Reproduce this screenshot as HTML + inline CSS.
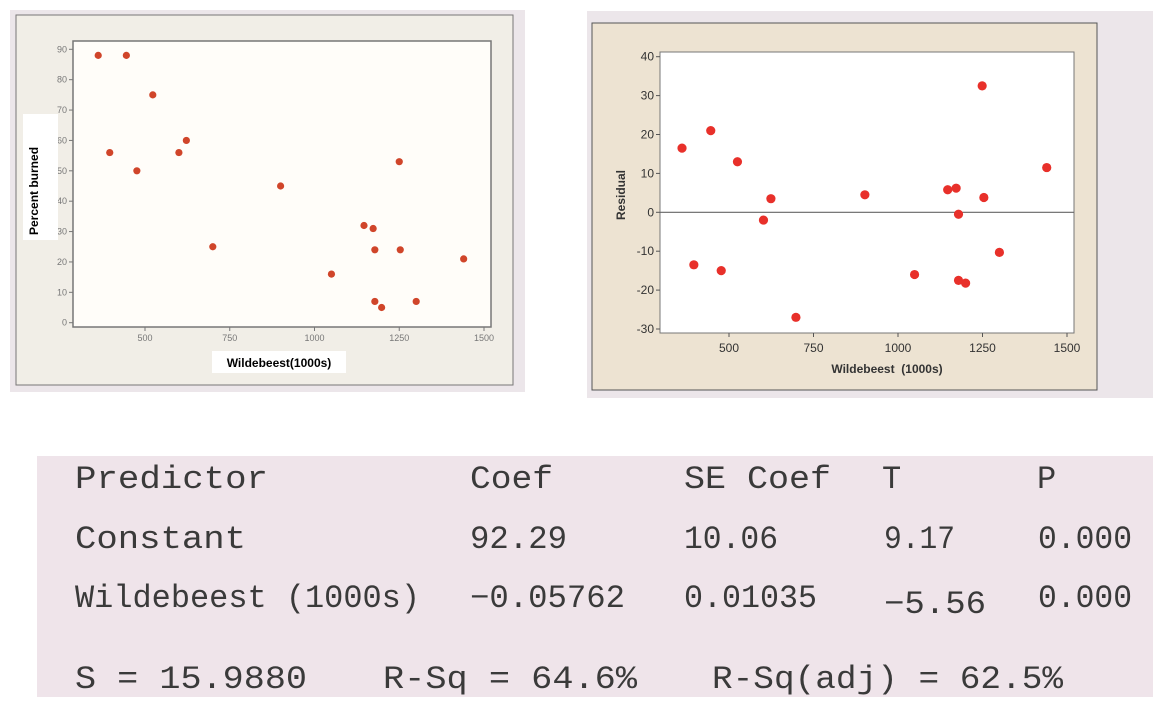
<!DOCTYPE html>
<html><head><meta charset="utf-8"><style>
body{margin:0;background:#fff;width:1160px;height:706px;overflow:hidden}
svg{display:block}
</style></head><body>
<svg width="1160" height="706" xmlns="http://www.w3.org/2000/svg">
<rect x="10" y="10" width="515" height="382" fill="#ece6ea"/>
<rect x="16" y="15" width="497" height="370" fill="#f1eee7" stroke="#777" stroke-width="1"/>
<rect x="73" y="41" width="418" height="286" fill="#fffdf9" stroke="#777" stroke-width="1.5"/>
<g id="lax" font-family="Liberation Sans, sans-serif" font-size="9" fill="#777"></g>
<rect x="23" y="114" width="35" height="126" fill="#fff"/>
<text transform="translate(38,235) rotate(-90)" font-family="Liberation Sans, sans-serif" font-weight="bold" font-size="12" fill="#000">Percent burned</text>
<rect x="212" y="351" width="134" height="22" fill="#fff"/>
<text x="279" y="367" text-anchor="middle" font-family="Liberation Sans, sans-serif" font-weight="bold" font-size="12" fill="#000">Wildebeest(1000s)</text>
<g id="lpts"></g>

<rect x="587" y="11" width="566" height="387" fill="#ece6ea"/>
<rect x="592" y="23" width="505" height="367" fill="#ede3d2" stroke="#555" stroke-width="1"/>
<rect x="660" y="52" width="414" height="281" fill="#fff" stroke="#777" stroke-width="1"/>
<g id="rax" font-family="Liberation Sans, sans-serif" font-size="12" fill="#333"></g>
<text transform="translate(625,195) rotate(-90)" text-anchor="middle" font-family="Liberation Sans, sans-serif" font-weight="bold" font-size="12" fill="#333">Residual</text>
<text x="887" y="373" text-anchor="middle" font-family="Liberation Sans, sans-serif" font-weight="bold" font-size="12" fill="#333" xml:space="preserve">Wildebeest  (1000s)</text>
<g id="rpts"></g>

<rect x="37" y="456" width="1116" height="241" fill="#efe4ea"/>
<g font-family="Liberation Mono, monospace" font-size="32" fill="#3a3a3a" xml:space="preserve" lengthAdjust="spacingAndGlyphs">
<text x="75" y="488" textLength="193" lengthAdjust="spacingAndGlyphs">Predictor</text>
<text x="470" y="488" textLength="83" lengthAdjust="spacingAndGlyphs">Coef</text>
<text x="684" y="488" textLength="147" lengthAdjust="spacingAndGlyphs">SE Coef</text>
<text x="882" y="488">T</text>
<text x="1037" y="488">P</text>
<text x="75" y="548" textLength="171" lengthAdjust="spacingAndGlyphs">Constant</text>
<text x="470" y="548" textLength="97" lengthAdjust="spacingAndGlyphs">92.29</text>
<text x="684" y="548" textLength="94" lengthAdjust="spacingAndGlyphs">10.06</text>
<text x="884" y="548" textLength="71" lengthAdjust="spacingAndGlyphs">9.17</text>
<text x="1038" y="548" textLength="94" lengthAdjust="spacingAndGlyphs">0.000</text>
<text x="75" y="607" textLength="345" lengthAdjust="spacingAndGlyphs">Wildebeest (1000s)</text>
<text x="470" y="607" textLength="155" lengthAdjust="spacingAndGlyphs">−0.05762</text>
<text x="684" y="607" textLength="133" lengthAdjust="spacingAndGlyphs">0.01035</text>
<text x="884" y="613" textLength="102" lengthAdjust="spacingAndGlyphs">−5.56</text>
<text x="1038" y="607" textLength="94" lengthAdjust="spacingAndGlyphs">0.000</text>
<text x="75" y="688" textLength="232" lengthAdjust="spacingAndGlyphs">S = 15.9880</text>
<text x="383" y="688" textLength="254" lengthAdjust="spacingAndGlyphs">R-Sq = 64.6%</text>
<text x="712" y="688" textLength="351" lengthAdjust="spacingAndGlyphs">R-Sq(adj) = 62.5%</text>
</g>
</svg>
<script>
const NS='http://www.w3.org/2000/svg';
const wild=[362,445,523,396,476,600,622,700,900,1050,1146,1173,1178,1178,1198,1250,1253,1300,1440];
const burned=[88,88,75,56,50,56,60,25,45,16,32,31,24,7,5,53,24,7,21];
const residX=[361,446,525,624,602,396,477,698,902,1049,1147,1172,1179,1179,1200,1249,1254,1300,1440];
const residY=[16.5,21,13,3.5,-2,-13.5,-15,-27,4.5,-16,5.8,6.2,-0.5,-17.5,-18.2,32.5,3.8,-10.3,11.5];
const xTicks=[500,750,1000,1250,1500];
const leftYTicks=[0,10,20,30,40,50,60,70,80,90];
const rightYTicks=[-30,-20,-10,0,10,20,30,40];
const lx=v=>145+(v-500)*0.339, ly=v=>322.7-v*(273.4/90);
const rx=v=>729+(v-500)*0.338, ry=v=>329-(v+30)*(272.3/70);
function mk(tag,attrs,parent){const e=document.createElementNS(NS,tag);for(const k in attrs)e.setAttribute(k,attrs[k]);parent.appendChild(e);return e;}
const lax=document.getElementById('lax'), rax=document.getElementById('rax');
xTicks.forEach(t=>{
 let l=mk('line',{x1:lx(t),x2:lx(t),y1:327,y2:331,stroke:'#777'},lax);
 
 
 let tx=mk('text',{x:lx(t),y:341,'text-anchor':'middle'},lax);tx.textContent=t;
 
 
 let l2=mk('line',{x1:rx(t),x2:rx(t),y1:333,y2:337,stroke:'#555'},rax);
 
 
 let t2=mk('text',{x:rx(t),y:352,'text-anchor':'middle'},rax);t2.textContent=t;
 
 
});
leftYTicks.forEach(t=>{
 let l=mk('line',{x1:69,x2:73,y1:ly(t),y2:ly(t),stroke:'#777'},lax);
 
 
 let tx=mk('text',{x:67,y:ly(t)+3,'text-anchor':'end'},lax);tx.textContent=t;
 
 
});
rightYTicks.forEach(t=>{
 let l=mk('line',{x1:656,x2:660,y1:ry(t),y2:ry(t),stroke:'#555'},rax);
 
 
 let tx=mk('text',{x:654,y:ry(t)+4,'text-anchor':'end'},rax);tx.textContent=t;
 
 
});
let zl=mk('line',{x1:660,x2:1074,y1:ry(0),y2:ry(0),stroke:'#666','stroke-width':1.2},rax);


const lp=document.getElementById('lpts');
wild.forEach((w,i)=>{
 let c=mk('circle',{cx:lx(w),cy:ly(burned[i]),r:3.6,fill:'#d0452a'},lp);
 
 
});
const rp=document.getElementById('rpts');
residX.forEach((w,i)=>{
 let c=mk('circle',{cx:rx(w),cy:ry(residY[i]),r:4.6,fill:'#e8302a'},rp);
 
 
});
</script>
</body></html>
